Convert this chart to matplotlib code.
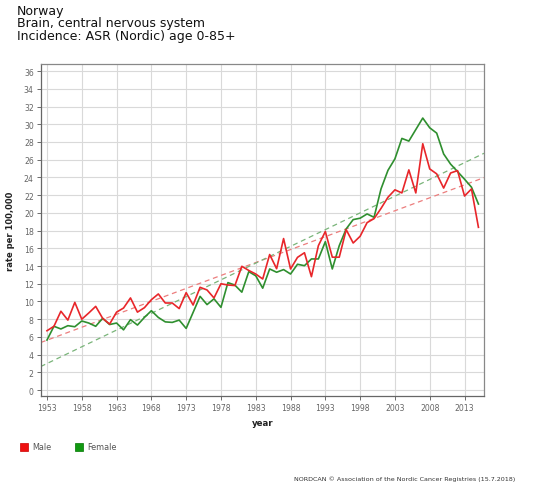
import matplotlib
matplotlib.use("Agg")
import matplotlib.pyplot as plt
import numpy as np
from matplotlib.patches import Rectangle

years = list(range(1953, 2016))
male = [6.7, 7.2, 8.9, 7.9, 9.9, 8.0, 8.7, 9.45, 8.1, 7.45,
        8.8, 9.26, 10.4, 8.8, 9.3, 10.2, 10.85, 9.83, 9.83, 9.2,
        11.0, 9.6, 11.6, 11.3, 10.4, 12.0, 11.86, 11.8, 13.97, 13.5,
        13.1, 12.54, 15.3, 13.7, 17.1, 13.67, 14.98, 15.5, 12.8, 16.3,
        17.9, 15.0, 15.0, 18.1, 16.6, 17.36, 18.9, 19.35, 20.5, 21.76,
        22.6, 22.25, 24.85, 22.25, 27.8, 24.96, 24.4, 22.8, 24.5, 24.77,
        21.9, 22.7, 18.37]
female = [5.65, 7.2, 6.9, 7.27, 7.15, 7.8, 7.57, 7.2, 8.1, 7.4,
          7.57, 6.8, 7.95, 7.34, 8.2, 8.96, 8.2, 7.7, 7.64, 7.9,
          6.96, 8.77, 10.58, 9.65, 10.3, 9.34, 12.13, 11.85, 11.05, 13.37,
          12.9, 11.5, 13.67, 13.3, 13.6, 13.1, 14.2, 14.04, 14.8, 14.8,
          16.75, 13.67, 16.3, 18.2, 19.24, 19.4, 19.88, 19.5, 22.7, 24.8,
          26.1, 28.4, 28.1, 29.4, 30.7, 29.6, 29.0, 26.65, 25.5, 24.66,
          23.8, 22.9, 21.0]
series_names = ["Male", "Female"]
x_ticks = list(range(1953, 2016, 5))
y_ticks = list(range(0, 37, 2))

red = "#e8262a"
green = "#2f8f2f"

fig = plt.figure(figsize=(5.4, 4.89), dpi=100)
ax = fig.add_axes([0.0754, 0.1875, 0.8209, 0.6796])

xlim = (1952.1, 2015.8)
ax.set_xlim(*xlim)
ax.set_ylim(-0.7, 36.8)

yr = np.array(years, dtype=float)
xx = np.array(xlim)
for vals, dcol in [(male, "#ec7d7d"), (female, "#79b479")]:
    c = np.polyfit(yr, np.array(vals), 1)
    ax.plot(xx, np.polyval(c, xx), color=dcol, lw=0.9, ls=(0, (4, 3)), zorder=2)

ax.plot(years, female, color=green, lw=1.2, zorder=3)
ax.plot(years, male, color=red, lw=1.2, zorder=4)

ax.set_xticks(x_ticks)
ax.set_yticks(y_ticks)
ax.grid(True, color="#d9d9d9", lw=0.8, zorder=0)
ax.set_axisbelow(True)
ax.tick_params(axis="both", labelsize=5.6, colors="#555555", length=3, width=0.6,
               labelcolor="#666666", pad=2)
for s in ax.spines.values():
    s.set_color("#888888")
    s.set_linewidth(0.9)
ax.spines["left"].set_color("#666666")
ax.spines["bottom"].set_color("#666666")

ax.set_ylabel("rate per 100,000", fontsize=6, fontweight="bold", color="#222222", labelpad=6)
ax.set_xlabel("year", fontsize=6.2, fontweight="bold", color="#222222", labelpad=4)

fig.text(17/540, 1-5/489, "Norway\nBrain, central nervous system\nIncidence: ASR (Nordic) age 0-85+",
         fontsize=9, va="top", ha="left", color="#111111", linespacing=0.95)

# legend
fig.patches.append(Rectangle((20/540, 1-452/489), 8/540, 8/489, transform=fig.transFigure,
                             facecolor="#ee1111", edgecolor="#cc0000", lw=0.5))
fig.text(32/540, 1-447.5/489, series_names[0], fontsize=5.8, va="center", ha="left", color="#555555")
fig.patches.append(Rectangle((75/540, 1-452/489), 8/540, 8/489, transform=fig.transFigure,
                             facecolor="#119911", edgecolor="#007700", lw=0.5))
fig.text(87/540, 1-447.5/489, series_names[1], fontsize=5.8, va="center", ha="left", color="#555555")

fig.text(515/540, 1-479/489, "NORDCAN \u00a9 Association of the Nordic Cancer Registries (15.7.2018)",
         fontsize=4.6, va="center", ha="right", color="#333333")

fig.savefig("out.png", dpi=100)
